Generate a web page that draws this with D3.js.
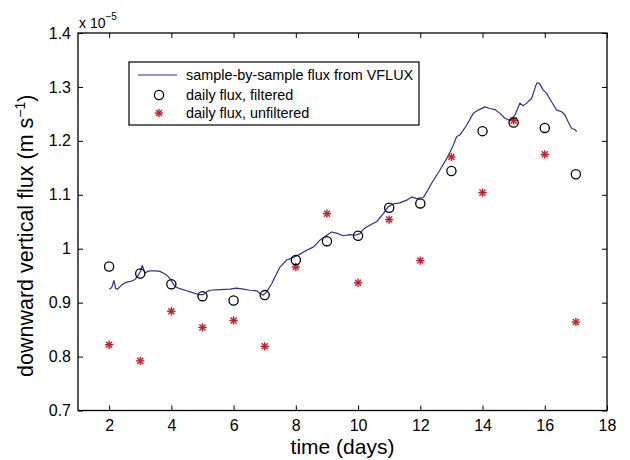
<!DOCTYPE html>
<html>
<head>
<meta charset="utf-8">
<script src="https://cdn.jsdelivr.net/npm/d3@7/dist/d3.min.js"></script>
<style>
  html, body { margin: 0; padding: 0; background: #fff; }
  svg { display: block; font-family: "Liberation Sans", Arial, Helvetica, sans-serif; }
</style>
</head>
<body>
<svg id="chart" width="630" height="460"></svg>
<script>
// ---- data (flux in units of 1e-5 m/s) ----
const days = [2, 3, 4, 5, 6, 7, 8, 9, 10, 11, 12, 13, 14, 15, 16, 17];
const filtered = [0.967, 0.954, 0.934, 0.912, 0.904, 0.914, 0.979, 1.014, 1.024, 1.076, 1.084, 1.144, 1.218, 1.234, 1.224, 1.138];
const unfiltered = [0.822, 0.792, 0.884, 0.854, 0.867, 0.819, 0.966, 1.065, 0.937, 1.054, 0.978, 1.170, 1.104, 1.238, 1.175, 0.864];

const sampleDays = [2.006, 2.083, 2.157, 2.211, 2.276, 2.404, 2.565, 2.726, 2.832, 2.938, 3.015, 3.066, 3.153, 3.240, 3.314, 3.474, 3.635, 3.796, 3.902, 4.011, 4.117, 4.223, 4.438, 4.654, 4.866, 5.026, 5.136, 5.242, 5.563, 5.884, 6.100, 6.312, 6.527, 6.742, 6.848, 6.954, 7.064, 7.224, 7.385, 7.491, 7.706, 7.918, 8.134, 8.349, 8.561, 8.776, 8.992, 9.152, 9.313, 9.525, 9.740, 9.901, 10.062, 10.168, 10.383, 10.598, 10.810, 10.971, 11.132, 11.347, 11.562, 11.723, 11.884, 12.096, 12.205, 12.360, 12.632, 12.848, 13.060, 13.169, 13.275, 13.490, 13.702, 13.863, 14.078, 14.239, 14.400, 14.560, 14.721, 14.827, 14.936, 15.042, 15.203, 15.309, 15.418, 15.579, 15.740, 15.823, 15.952, 16.061, 16.222, 16.382, 16.543, 16.649, 16.755, 16.864, 16.970, 17.025];
const sampleFlux = [0.925, 0.928, 0.941, 0.926, 0.925, 0.933, 0.938, 0.940, 0.943, 0.951, 0.959, 0.969, 0.955, 0.958, 0.959, 0.959, 0.958, 0.953, 0.948, 0.940, 0.930, 0.927, 0.923, 0.919, 0.915, 0.915, 0.920, 0.923, 0.924, 0.925, 0.927, 0.925, 0.923, 0.922, 0.917, 0.914, 0.920, 0.935, 0.954, 0.966, 0.979, 0.984, 0.990, 0.997, 1.003, 1.016, 1.025, 1.031, 1.029, 1.024, 1.026, 1.025, 1.028, 1.036, 1.044, 1.050, 1.065, 1.078, 1.083, 1.085, 1.090, 1.096, 1.093, 1.095, 1.105, 1.121, 1.146, 1.167, 1.192, 1.208, 1.211, 1.229, 1.251, 1.257, 1.263, 1.260, 1.258, 1.251, 1.242, 1.239, 1.240, 1.248, 1.270, 1.265, 1.270, 1.279, 1.307, 1.307, 1.294, 1.288, 1.272, 1.257, 1.254, 1.248, 1.235, 1.223, 1.221, 1.217];

const xTicks = [2, 4, 6, 8, 10, 12, 14, 16, 18];
const yTicks = [0.7, 0.8, 0.9, 1.0, 1.1, 1.2, 1.3, 1.4];
const yTickLabels = ["0.7", "0.8", "0.9", "1", "1.1", "1.2", "1.3", "1.4"];
const legendLabels = ["sample-by-sample flux from VFLUX", "daily flux, filtered", "daily flux, unfiltered"];

// ---- layout ----
const L = 78, R = 607, T = 33, B = 410.5;
const lineColor = "#30309a", starColor = "#c0202c";

const svg = d3.select("#chart");
const x = d3.scaleLinear().domain([1, 18]).range([L, R]);
const y = d3.scaleLinear().domain([0.7, 1.4]).range([B, T]);

// axes
function styleAxis(g) {
  g.select(".domain").remove();
  g.selectAll("line").attr("stroke", "#000").attr("stroke-width", 1);
  g.selectAll("text").attr("fill", "#000").style("font-size", "16px")
    .style("font-family", '"Liberation Sans", Arial, Helvetica, sans-serif');
}
svg.append("g").attr("transform", `translate(0,${B})`)
  .call(d3.axisBottom(x).tickValues(xTicks).tickSizeInner(-5).tickSizeOuter(0).tickPadding(9).tickFormat(d3.format("d")))
  .call(styleAxis);
svg.append("g").attr("transform", `translate(0,${T})`)
  .call(d3.axisTop(x).tickValues(xTicks).tickSizeInner(-5).tickSizeOuter(0).tickFormat(""))
  .call(styleAxis);
svg.append("g").attr("transform", `translate(${L},0)`)
  .call(d3.axisLeft(y).tickValues(yTicks).tickSizeInner(-5).tickSizeOuter(0).tickPadding(7)
    .tickFormat((d, i) => yTickLabels[i]))
  .call(styleAxis);
svg.append("g").attr("transform", `translate(${R},0)`)
  .call(d3.axisRight(y).tickValues(yTicks).tickSizeInner(-5).tickSizeOuter(0).tickFormat(""))
  .call(styleAxis);

// frame
svg.append("rect").attr("x", L).attr("y", T).attr("width", R - L).attr("height", B - T)
  .attr("fill", "none").attr("stroke", "#000").attr("stroke-width", 1.3);

// sample-by-sample line
const sample = sampleDays.map((d, i) => [d, sampleFlux[i]]);
svg.append("path").datum(sample)
  .attr("fill", "none").attr("stroke", lineColor).attr("stroke-width", 1.2)
  .attr("stroke-linejoin", "round")
  .attr("d", d3.line().x(d => x(d[0])).y(d => y(d[1])));

// star marker
function star(g, cx, cy, s) {
  const a = s * 0.72;
  const segs = [[-s, 0, s, 0], [0, -s, 0, s], [-a, -a, a, a], [-a, a, a, -a]];
  segs.forEach(q => g.append("line")
    .attr("x1", cx + q[0]).attr("y1", cy + q[1]).attr("x2", cx + q[2]).attr("y2", cy + q[3])
    .attr("stroke", starColor).attr("stroke-width", 1.4));
}

// unfiltered stars
const starsG = svg.append("g");
days.forEach((d, i) => star(starsG, x(d), y(unfiltered[i]), 4.2));

// filtered circles
svg.append("g").selectAll("circle").data(days).join("circle")
  .attr("cx", d => x(d)).attr("cy", (d, i) => y(filtered[i])).attr("r", 4.6)
  .attr("fill", "none").attr("stroke", "#000").attr("stroke-width", 1.3);

// exponent label
const ex = svg.append("text").attr("x", L + 1).attr("y", 28).style("font-size", "14px").attr("fill", "#000");
ex.append("tspan").text("x 10");
ex.append("tspan").attr("dy", -8).style("font-size", "10px").text("\u22125");

// axis titles
svg.append("text").attr("x", (L + R) / 2).attr("y", 454).attr("text-anchor", "middle")
  .style("font-size", "21px").attr("fill", "#000").text("time (days)");

const yt = svg.append("text").attr("transform", `translate(33,${(T + B) / 2 + 14}) rotate(-90)`)
  .attr("text-anchor", "middle").style("font-size", "21.5px").attr("fill", "#000");
yt.append("tspan").text("downward vertical flux (m s");
yt.append("tspan").attr("dy", -8).style("font-size", "14px").text("\u22121");
yt.append("tspan").attr("dy", 8).text(")");

// legend
const lg = svg.append("g");
lg.append("rect").attr("x", 129).attr("y", 62).attr("width", 290).attr("height", 63)
  .attr("fill", "#fff").attr("stroke", "#000").attr("stroke-width", 1.2);
lg.append("line").attr("x1", 138).attr("x2", 177).attr("y1", 75).attr("y2", 75)
  .attr("stroke", lineColor).attr("stroke-width", 1.2);
lg.append("circle").attr("cx", 159).attr("cy", 95).attr("r", 4.6)
  .attr("fill", "none").attr("stroke", "#000").attr("stroke-width", 1.3);
star(lg, 159, 113, 4.2);
[80, 100, 118].forEach((yy, i) => lg.append("text").attr("x", 186).attr("y", yy)
  .style("font-size", "14.4px").attr("fill", "#000").text(legendLabels[i]));
</script>
</body>
</html>
